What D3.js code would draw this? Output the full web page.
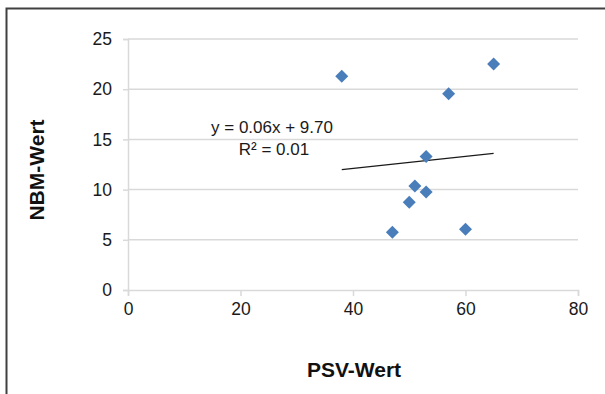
<!DOCTYPE html>
<html>
<head>
<meta charset="utf-8">
<script src="https://cdn.jsdelivr.net/npm/d3@7"></script>
<style>
  html, body { margin: 0; padding: 0; background: #fff; }
  svg { display: block; font-family: "Liberation Sans", Arial, sans-serif; }
</style>
</head>
<body>
<svg id="chart" width="605" height="394"></svg>
<script>
// PSV vs. NBM measurements
const psvValues = [38, 47, 50, 51, 53, 53, 57, 60, 65];
const nbmValues = [21.3, 5.75, 8.75, 10.35, 9.75, 13.3, 19.55, 6.05, 22.5];
const xTicks = [0, 20, 40, 60, 80];
const yTicks = [0, 5, 10, 15, 20, 25];
const trendSlope = 0.06;
const trendIntercept = 9.70;
const rSquared = 0.01;
const xTitle = "PSV-Wert";
const yTitle = "NBM-Wert";

const svg = d3.select("#chart");
const x = d3.scaleLinear().domain([0, 80]).range([128, 578]);
const y = d3.scaleLinear().domain([0, 25]).range([290, 39]);

// outer frame (only top and left edges are inside the view)
svg.append("path")
  .attr("d", "M6.5,400 V8.5 H610")
  .attr("fill", "none").attr("stroke", "#404040").attr("stroke-width", 2);

const grid = "#d9d9d9";

// horizontal gridlines
svg.append("g").selectAll("line").data(yTicks.filter(d => d > 0)).join("line")
  .attr("x1", x(0)).attr("x2", x(80))
  .attr("y1", d => y(d)).attr("y2", d => y(d))
  .attr("stroke", grid).attr("stroke-width", 1.5);

// y axis
const yAxis = svg.append("g").attr("transform", `translate(${x(0)},0)`)
  .call(d3.axisLeft(y).tickValues(yTicks).tickSize(5).tickPadding(11));
// x axis
const xAxis = svg.append("g").attr("transform", `translate(0,${y(0)})`)
  .call(d3.axisBottom(x).tickValues(xTicks).tickSize(6).tickPadding(6));

[yAxis, xAxis].forEach(g => {
  g.select(".domain").attr("stroke", grid).attr("stroke-width", 1.5);
  g.selectAll(".tick line").attr("stroke", grid).attr("stroke-width", 1.5);
  g.selectAll(".tick text")
    .attr("fill", "#1a1a1a")
    .style("font-size", "17.5px")
    .style("font-family", "'Liberation Sans', Arial, sans-serif");
});
xAxis.selectAll(".tick text").attr("dy", "0.75em");

// linear trend line across the data range
const [xmin, xmax] = d3.extent(psvValues);
svg.append("line")
  .attr("x1", x(xmin)).attr("y1", y(trendSlope * xmin + trendIntercept))
  .attr("x2", x(xmax)).attr("y2", y(trendSlope * xmax + trendIntercept))
  .attr("stroke", "#1a1a1a").attr("stroke-width", 1.2);

// data points as diamonds
const r = 6.5;
const diamondPath = `M0,${-r} L${r},0 L0,${r} L${-r},0 Z`;
svg.append("g").selectAll("path").data(psvValues.map((v, i) => [v, nbmValues[i]])).join("path")
  .attr("d", diamondPath)
  .attr("transform", d => `translate(${x(d[0])},${y(d[1])})`)
  .attr("fill", "#4a7ebb");

// trend equation
const eq = svg.append("g").attr("fill", "#1a1a1a").style("font-size", "17px").attr("text-anchor", "middle");
eq.append("text").attr("x", 272).attr("y", 133)
  .text(`y = ${trendSlope.toFixed(2)}x + ${trendIntercept.toFixed(2)}`);
eq.append("text").attr("x", 274).attr("y", 155)
  .text(`R² = ${rSquared.toFixed(2)}`);

// axis titles
svg.append("text")
  .attr("x", 354).attr("y", 377).attr("text-anchor", "middle")
  .style("font-size", "21px").style("font-weight", "bold").attr("fill", "#111")
  .text(xTitle);
svg.append("text")
  .attr("transform", "translate(44,170) rotate(-90)").attr("text-anchor", "middle")
  .style("font-size", "21px").style("font-weight", "bold").attr("fill", "#111")
  .text(yTitle);
</script>
</body>
</html>
